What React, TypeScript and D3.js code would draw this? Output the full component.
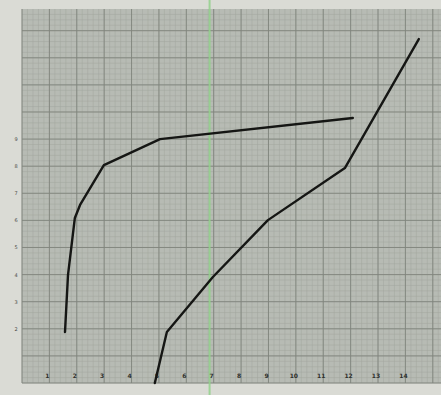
import * as d3 from "d3";
import { useEffect, useRef } from "react";

// Scanned graph paper: two hand-drawn curves, values in grid units
// (one unit = one major square).
const curveA: [number, number][] = [
  [1.57, 1.88],
  [1.68, 3.99],
  [1.93, 6.09],
  [2.12, 6.57],
  [2.99, 8.04],
  [5.04, 9.0],
  [12.08, 9.78],
];

const curveB: [number, number][] = [
  [4.85, 0.0],
  [5.29, 1.88],
  [6.97, 3.91],
  [8.98, 6.01],
  [11.79, 7.93],
  [14.49, 12.69],
];

const xTickValues = [1, 2, 3, 4, 5, 6, 7, 8, 9, 10, 11, 12, 13, 14];
const xTickLabels = ["1", "2", "3", "4", "5", "6", "7", "8", "9", "10", "11", "12", "13", "14"];
const yTickValues = [2, 3, 4, 5, 6, 7, 8, 9];
const yTickLabels = ["2", "3", "4", "5", "6", "7", "8", "9"];
const greenLineX = 6.85;

const W = 441;
const H = 395;

export default function App() {
  const svgRef = useRef<SVGSVGElement>(null);

  useEffect(() => {
    if (!svgRef.current) return;
    const svg = d3.select(svgRef.current);
    svg.selectAll("*").remove();

    const x = d3.scaleLinear().domain([0, 15.3]).range([22, 441]);
    const y = d3.scaleLinear().domain([0, 13.8]).range([383, 9]);
    const [x0, x1] = x.range();
    const [y0, y1] = y.range();

    // paper
    svg.append("rect").attr("width", W).attr("height", H).attr("fill", "#dadbd5");
    svg
      .append("rect")
      .attr("x", x0)
      .attr("y", y1)
      .attr("width", x1 - x0)
      .attr("height", y0 - y1)
      .attr("fill", "#b7bbb4");

    const g = svg.append("g");

    // minor grid
    const minorX = d3.range(0, 15.3, 0.2);
    const minorY = d3.range(0, 13.8, 0.2);
    g.selectAll(".mx")
      .data(minorX)
      .enter()
      .append("line")
      .attr("x1", (d) => x(d))
      .attr("x2", (d) => x(d))
      .attr("y1", y1)
      .attr("y2", y0)
      .attr("stroke", "#a2a69f")
      .attr("stroke-width", 0.5);
    g.selectAll(".my")
      .data(minorY)
      .enter()
      .append("line")
      .attr("y1", (d) => y(d))
      .attr("y2", (d) => y(d))
      .attr("x1", x0)
      .attr("x2", x1)
      .attr("stroke", "#a2a69f")
      .attr("stroke-width", 0.5);

    // major grid
    g.selectAll(".Mx")
      .data(d3.range(0, 16, 1))
      .enter()
      .append("line")
      .attr("x1", (d) => x(d))
      .attr("x2", (d) => x(d))
      .attr("y1", y1)
      .attr("y2", y0)
      .attr("stroke", "#80847d")
      .attr("stroke-width", 0.9);
    g.selectAll(".My")
      .data(d3.range(0, 14, 1))
      .enter()
      .append("line")
      .attr("y1", (d) => y(d))
      .attr("y2", (d) => y(d))
      .attr("x1", x0)
      .attr("x2", x1)
      .attr("stroke", "#80847d")
      .attr("stroke-width", 0.9);

    // green vertical line
    svg
      .append("line")
      .attr("x1", x(greenLineX))
      .attr("x2", x(greenLineX))
      .attr("y1", 0)
      .attr("y2", H)
      .attr("stroke", "#93d28c")
      .attr("stroke-width", 2)
      .attr("opacity", 0.85);

    // tick labels
    svg
      .selectAll(".xl")
      .data(xTickValues)
      .enter()
      .append("text")
      .attr("x", (d) => x(d) - 2)
      .attr("y", 378)
      .attr("text-anchor", "middle")
      .attr("font-family", "DejaVu Sans")
      .attr("font-size", 6)
      .attr("font-weight", "bold")
      .attr("fill", "#2e302c")
      .text((_, i) => xTickLabels[i]);
    svg
      .selectAll(".yl")
      .data(yTickValues)
      .enter()
      .append("text")
      .attr("x", 16)
      .attr("y", (d) => y(d) + 2)
      .attr("text-anchor", "middle")
      .attr("font-family", "DejaVu Sans")
      .attr("font-size", 5)
      .attr("fill", "#4a4c48")
      .text((_, i) => yTickLabels[i]);

    // curves
    const line = d3
      .line<[number, number]>()
      .x((d) => x(d[0]))
      .y((d) => y(d[1]));
    [curveA, curveB].forEach((c) => {
      svg
        .append("path")
        .attr("d", line(c))
        .attr("fill", "none")
        .attr("stroke", "#151614")
        .attr("stroke-width", 2.4)
        .attr("stroke-linejoin", "round")
        .attr("stroke-linecap", "round");
    });
  }, []);

  return (
    <svg
      ref={svgRef}
      width={W}
      height={H}
      style={{ position: "absolute", left: 0, top: 0 }}
    />
  );
}
